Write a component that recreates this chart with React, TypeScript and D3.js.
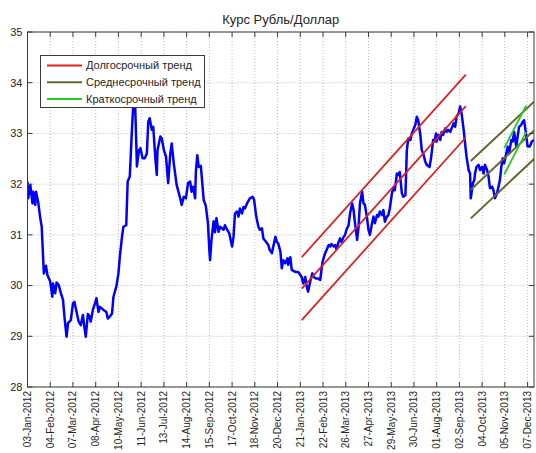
import React, { useEffect, useRef } from 'react';
import * as d3 from 'd3';

// курс USD/RUB, значения
const rate2012: [string, number][] = [
  ['2012-01-03', 32.05], ['2012-01-04', 31.72], ['2012-01-07', 31.98], ['2012-01-10', 31.62],
  ['2012-01-11', 31.85], ['2012-01-14', 31.59], ['2012-01-15', 31.85], ['2012-01-18', 31.65],
  ['2012-01-21', 31.33], ['2012-01-23', 31.16], ['2012-01-26', 30.24], ['2012-01-29', 30.39],
  ['2012-01-31', 30.21], ['2012-02-04', 30.08], ['2012-02-07', 29.78], ['2012-02-08', 30.04],
  ['2012-02-11', 29.85], ['2012-02-13', 30.06], ['2012-02-16', 30.01], ['2012-02-19', 29.85],
  ['2012-02-22', 29.72], ['2012-02-24', 29.39], ['2012-02-27', 28.99], ['2012-02-29', 29.26],
  ['2012-03-04', 29.32], ['2012-03-07', 29.65], ['2012-03-09', 29.68], ['2012-03-11', 29.55],
  ['2012-03-15', 29.29], ['2012-03-18', 29.22], ['2012-03-21', 29.42], ['2012-03-23', 29.19],
  ['2012-03-25', 28.99], ['2012-03-28', 29.44], ['2012-03-30', 29.4], ['2012-04-01', 29.29],
  ['2012-04-04', 29.52], ['2012-04-07', 29.65], ['2012-04-09', 29.75], ['2012-04-12', 29.48],
  ['2012-04-14', 29.58], ['2012-04-19', 29.52], ['2012-04-23', 29.48], ['2012-04-25', 29.35],
  ['2012-04-28', 29.39], ['2012-05-01', 29.45], ['2012-05-03', 29.78], ['2012-05-07', 29.98],
  ['2012-05-10', 30.24], ['2012-05-12', 30.57], ['2012-05-15', 30.96], ['2012-05-17', 31.16],
  ['2012-05-21', 31.19], ['2012-05-23', 32.05], ['2012-05-26', 32.15], ['2012-05-29', 33.07],
  ['2012-05-31', 33.6], ['2012-06-02', 33.8], ['2012-06-04', 32.87], ['2012-06-05', 32.35],
  ['2012-06-08', 32.67], ['2012-06-10', 32.71], ['2012-06-13', 32.51], ['2012-06-16', 32.51],
  ['2012-06-19', 32.6], ['2012-06-21', 33.23], ['2012-06-23', 33.3], ['2012-06-26', 33.07],
  ['2012-06-28', 33.13], ['2012-07-01', 32.5], ['2012-07-03', 32.18], ['2012-07-04', 32.67],
  ['2012-07-08', 32.94], ['2012-07-10', 32.9], ['2012-07-13', 32.67], ['2012-07-16', 32.54],
  ['2012-07-19', 32.02], ['2012-07-22', 32.6], ['2012-07-24', 32.8], ['2012-07-27', 32.4],
  ['2012-07-31', 31.98], ['2012-08-05', 31.72], ['2012-08-07', 31.59], ['2012-08-10', 31.75],
  ['2012-08-13', 31.72], ['2012-08-16', 32.02], ['2012-08-19', 32.05], ['2012-08-21', 31.85],
  ['2012-08-23', 31.95], ['2012-08-26', 31.72], ['2012-08-27', 32.24], ['2012-08-29', 32.57],
  ['2012-08-31', 32.34], ['2012-09-03', 32.36], ['2012-09-07', 31.69], ['2012-09-10', 31.57],
  ['2012-09-13', 31.23], ['2012-09-15', 30.7], ['2012-09-16', 30.5], ['2012-09-18', 30.9],
  ['2012-09-21', 31.27], ['2012-09-23', 31.05], ['2012-09-25', 31.33], ['2012-09-28', 31.06],
  ['2012-09-30', 31.16], ['2012-10-05', 31.1], ['2012-10-07', 31.19], ['2012-10-09', 31.13],
  ['2012-10-13', 31.03], ['2012-10-17', 30.77], ['2012-10-19', 30.96], ['2012-10-21', 31.42],
  ['2012-10-24', 31.46], ['2012-10-26', 31.36], ['2012-10-28', 31.52], ['2012-10-31', 31.42],
  ['2012-11-02', 31.55], ['2012-11-04', 31.52], ['2012-11-07', 31.62], ['2012-11-11', 31.72],
  ['2012-11-15', 31.75], ['2012-11-17', 31.69], ['2012-11-20', 31.36], ['2012-11-23', 31.16],
  ['2012-11-25', 31.1], ['2012-11-28', 31.13], ['2012-11-30', 30.93], ['2012-12-04', 30.86],
  ['2012-12-07', 30.8], ['2012-12-09', 30.7], ['2012-12-12', 30.64], ['2012-12-14', 30.77],
  ['2012-12-17', 30.96], ['2012-12-19', 30.86], ['2012-12-21', 30.83], ['2012-12-24', 30.67],
  ['2012-12-26', 30.34], ['2012-12-28', 30.5], ['2012-12-31', 30.44],
];

const rate2013: [string, number][] = [
  ['2013-01-03', 30.54], ['2013-01-04', 30.41], ['2013-01-07', 30.56], ['2013-01-09', 30.31],
  ['2013-01-14', 30.27], ['2013-01-18', 30.27], ['2013-01-23', 30.17], ['2013-01-25', 30.04],
  ['2013-01-28', 30.17], ['2013-01-30', 29.98], ['2013-02-01', 29.88], ['2013-02-04', 30.08],
  ['2013-02-07', 30.24], ['2013-02-09', 30.17], ['2013-02-12', 30.14], ['2013-02-15', 30.14],
  ['2013-02-18', 30.11], ['2013-02-21', 30.44], ['2013-02-22', 30.5], ['2013-02-25', 30.64],
  ['2013-02-27', 30.7], ['2013-03-02', 30.8], ['2013-03-04', 30.77], ['2013-03-06', 30.82],
  ['2013-03-09', 30.77], ['2013-03-11', 30.8], ['2013-03-13', 30.72], ['2013-03-16', 30.86],
  ['2013-03-18', 30.93], ['2013-03-20', 30.86], ['2013-03-23', 30.96], ['2013-03-25', 31.0],
  ['2013-03-27', 31.1], ['2013-03-30', 31.19], ['2013-04-01', 31.42], ['2013-04-04', 31.62],
  ['2013-04-06', 31.49], ['2013-04-08', 31.23], ['2013-04-11', 30.9], ['2013-04-13', 31.16],
  ['2013-04-15', 31.62], ['2013-04-18', 31.85], ['2013-04-20', 31.62], ['2013-04-22', 31.59],
  ['2013-04-25', 31.33], ['2013-04-27', 31.1], ['2013-04-29', 31.0], ['2013-05-02', 31.23],
  ['2013-05-04', 31.36], ['2013-05-06', 31.23], ['2013-05-09', 31.39], ['2013-05-11', 31.36],
  ['2013-05-13', 31.46], ['2013-05-16', 31.39], ['2013-05-18', 31.49], ['2013-05-20', 31.26],
  ['2013-05-23', 31.36], ['2013-05-25', 31.39], ['2013-05-27', 31.52], ['2013-05-30', 31.82],
  ['2013-06-01', 31.92], ['2013-06-03', 31.88], ['2013-06-06', 32.21], ['2013-06-08', 32.18],
  ['2013-06-10', 32.24], ['2013-06-13', 31.82], ['2013-06-15', 31.75], ['2013-06-18', 31.78],
  ['2013-06-20', 32.67], ['2013-06-22', 32.9], ['2013-06-25', 32.87], ['2013-06-27', 33.0],
  ['2013-06-29', 33.07], ['2013-07-02', 33.17], ['2013-07-04', 33.33], ['2013-07-06', 33.26],
  ['2013-07-09', 32.97], ['2013-07-11', 32.67], ['2013-07-13', 32.61], ['2013-07-16', 32.44],
  ['2013-07-18', 32.38], ['2013-07-22', 32.34], ['2013-07-24', 32.51], ['2013-07-26', 32.74],
  ['2013-07-27', 32.87], ['2013-07-29', 32.84], ['2013-07-31', 33.0], ['2013-08-01', 32.84],
  ['2013-08-03', 32.97], ['2013-08-06', 32.87], ['2013-08-08', 33.03], ['2013-08-10', 32.97],
  ['2013-08-13', 33.1], ['2013-08-15', 33.03], ['2013-08-17', 33.07], ['2013-08-20', 33.03],
  ['2013-08-22', 33.1], ['2013-08-25', 33.2], ['2013-08-27', 33.13], ['2013-08-29', 33.33],
  ['2013-09-01', 33.4], ['2013-09-03', 33.53], ['2013-09-05', 33.4], ['2013-09-08', 33.07],
  ['2013-09-10', 32.8], ['2013-09-12', 32.54], ['2013-09-15', 32.28], ['2013-09-17', 32.21],
  ['2013-09-18', 31.72], ['2013-09-21', 32.02], ['2013-09-23', 32.08], ['2013-09-24', 32.21],
  ['2013-09-26', 32.34], ['2013-09-29', 32.38], ['2013-10-01', 32.28], ['2013-10-04', 32.34],
  ['2013-10-06', 32.21], ['2013-10-08', 32.38], ['2013-10-11', 32.28], ['2013-10-13', 32.15],
  ['2013-10-15', 31.92], ['2013-10-18', 31.95], ['2013-10-20', 31.88], ['2013-10-22', 31.72],
  ['2013-10-25', 31.82], ['2013-10-27', 31.95], ['2013-10-29', 32.08], ['2013-10-31', 32.34],
  ['2013-11-02', 32.51], ['2013-11-04', 32.41], ['2013-11-07', 32.61], ['2013-11-09', 32.74],
  ['2013-11-11', 32.61], ['2013-11-14', 32.87], ['2013-11-16', 32.84], ['2013-11-18', 33.03],
  ['2013-11-21', 32.74], ['2013-11-23', 32.94], ['2013-11-25', 33.13], ['2013-11-28', 33.17],
  ['2013-11-30', 33.23], ['2013-12-02', 33.26], ['2013-12-04', 33.07], ['2013-12-07', 32.74],
  ['2013-12-10', 32.74], ['2013-12-13', 32.84], ['2013-12-16', 32.87],
];

// каналы трендов: даты начала/конца, значения средней линии, полуширина канала
const longTrendDates = ['2013-01-23', '2013-09-11'];
const longTrendMid = [29.94, 33.54];
const longTrendBand = [-0.62, 0, 0.62];

const midTrendDates = ['2013-09-18', '2013-12-16'];
const midTrendMid = [31.89, 33.06];
const midTrendBand = [-0.565, 0, 0.565];

const shortTrendDates = ['2013-11-04', '2013-12-05'];
const shortTrendMid = [32.45, 33.29];
const shortTrendBand = [-0.26, 0.26];

const xTickLabels = [
  '03-Jan-2012', '04-Feb-2012', '07-Mar-2012', '08-Apr-2012', '10-May-2012', '11-Jun-2012',
  '13-Jul-2012', '14-Aug-2012', '15-Sep-2012', '17-Oct-2012', '18-Nov-2012', '20-Dec-2012',
  '21-Jan-2013', '22-Feb-2013', '26-Mar-2013', '27-Apr-2013', '29-May-2013', '30-Jun-2013',
  '01-Aug-2013', '02-Sep-2013', '04-Oct-2013', '05-Nov-2013', '07-Dec-2013',
];
const yTicks = [28, 29, 30, 31, 32, 33, 34, 35];

const legendNames = ['Долгосрочный тренд', 'Среднесрочный тренд', 'Краткосрочный тренд'];
const legendColors = ['#dd2222', '#666633', '#22cc22'];

const W = 536;
const H = 453;
const font = '"Liberation Sans", Arial, Helvetica, sans-serif';

const App = () => {
  const ref = useRef<SVGSVGElement | null>(null);

  useEffect(() => {
    document.body.style.margin = '0';
    const svg = d3.select(ref.current);
    svg.selectAll('*').remove();

    const parse = d3.timeParse('%Y-%m-%d');
    const parseTick = d3.timeParse('%d-%b-%Y');
    const data = [...rate2012, ...rate2013].map(([d, v]) => ({ date: parse(d) as Date, value: v }));

    const left = 27.5;
    const right = 534;
    const top = 32;
    const bottom = 387;

    const x = d3
      .scaleTime()
      .domain([data[0].date, data[data.length - 1].date])
      .range([left, right]);
    const y = d3.scaleLinear().domain([28, 35]).range([bottom, top]);

    const tickDates = xTickLabels.map((t) => parseTick(t) as Date);

    svg.append('rect').attr('width', W).attr('height', H).attr('fill', '#fff');

    // сетка
    const grid = svg.append('g').attr('stroke', '#b8b8b8').attr('stroke-dasharray', '1,2');
    tickDates.forEach((d) => {
      grid.append('line').attr('x1', x(d)).attr('x2', x(d)).attr('y1', top).attr('y2', bottom);
    });
    yTicks.forEach((v) => {
      grid.append('line').attr('x1', left).attr('x2', right).attr('y1', y(v)).attr('y2', y(v));
    });

    const clip = svg
      .append('defs')
      .append('clipPath')
      .attr('id', 'plot-clip')
      .append('rect')
      .attr('x', left)
      .attr('y', top)
      .attr('width', right - left)
      .attr('height', bottom - top);

    const plot = svg.append('g').attr('clip-path', 'url(#plot-clip)');

    const line = d3
      .line<{ date: Date; value: number }>()
      .x((d) => x(d.date))
      .y((d) => y(d.value));

    plot
      .append('path')
      .datum(data)
      .attr('d', line)
      .attr('fill', 'none')
      .attr('stroke', '#0000ff')
      .attr('stroke-width', 2.5)
      .attr('stroke-linejoin', 'round');

    const drawChannel = (dates: string[], mid: number[], band: number[], color: string, w: number) => {
      band.forEach((off) => {
        const pts = dates.map((d, i) => ({ date: parse(d) as Date, value: mid[i] + off }));
        plot
          .append('path')
          .datum(pts)
          .attr('d', line)
          .attr('fill', 'none')
          .attr('stroke', color)
          .attr('stroke-width', w);
      });
    };

    drawChannel(longTrendDates, longTrendMid, longTrendBand, legendColors[0], 1.8);
    drawChannel(midTrendDates, midTrendMid, midTrendBand, legendColors[1], 2);
    drawChannel(shortTrendDates, shortTrendMid, shortTrendBand, legendColors[2], 1.8);

    // рамка и засечки
    const axisColor = '#3a3a3a';
    svg
      .append('rect')
      .attr('x', left)
      .attr('y', top)
      .attr('width', right - left)
      .attr('height', bottom - top)
      .attr('fill', 'none')
      .attr('stroke', axisColor);

    const ticks = svg.append('g').attr('stroke', axisColor);
    tickDates.forEach((d) => {
      ticks.append('line').attr('x1', x(d)).attr('x2', x(d)).attr('y1', bottom).attr('y2', bottom - 5);
      ticks.append('line').attr('x1', x(d)).attr('x2', x(d)).attr('y1', top).attr('y2', top + 5);
    });
    yTicks.forEach((v) => {
      ticks.append('line').attr('x1', left).attr('x2', left + 5).attr('y1', y(v)).attr('y2', y(v));
      ticks.append('line').attr('x1', right).attr('x2', right - 5).attr('y1', y(v)).attr('y2', y(v));
    });

    svg
      .append('g')
      .selectAll('text')
      .data(yTicks)
      .enter()
      .append('text')
      .attr('x', left - 5)
      .attr('y', (d) => y(d))
      .attr('dy', '0.35em')
      .attr('text-anchor', 'end')
      .attr('font-family', font)
      .attr('font-size', 11)
      .attr('fill', '#262626')
      .text((d) => d);

    svg
      .append('g')
      .selectAll('text')
      .data(xTickLabels)
      .enter()
      .append('text')
      .attr('transform', (d, i) => `translate(${x(tickDates[i])},${bottom + 4}) rotate(-90)`)
      .attr('dy', '0.35em')
      .attr('text-anchor', 'end')
      .attr('font-family', font)
      .attr('font-size', 10)
      .attr('fill', '#262626')
      .text((d) => d);

    svg
      .append('text')
      .attr('x', (left + right) / 2)
      .attr('y', 24)
      .attr('text-anchor', 'middle')
      .attr('font-family', font)
      .attr('font-size', 13)
      .attr('fill', '#262626')
      .text('Курс Рубль/Доллар');

    // легенда
    const lg = svg.append('g');
    lg.append('rect')
      .attr('x', 40.5)
      .attr('y', 55.5)
      .attr('width', 164)
      .attr('height', 52)
      .attr('fill', '#fff')
      .attr('stroke', axisColor);
    legendNames.forEach((name, i) => {
      const yy = 65.5 + i * 16.7;
      lg.append('line')
        .attr('x1', 47)
        .attr('x2', 82)
        .attr('y1', yy)
        .attr('y2', yy)
        .attr('stroke', legendColors[i])
        .attr('stroke-width', 2);
      lg.append('text')
        .attr('x', 86)
        .attr('y', yy)
        .attr('dy', '0.35em')
        .attr('font-family', font)
        .attr('font-size', 11)
        .attr('fill', '#262626')
        .text(name);
    });
  }, []);

  return <svg ref={ref} width={W} height={H} style={{ display: 'block' }}></svg>;
};

export default App;
